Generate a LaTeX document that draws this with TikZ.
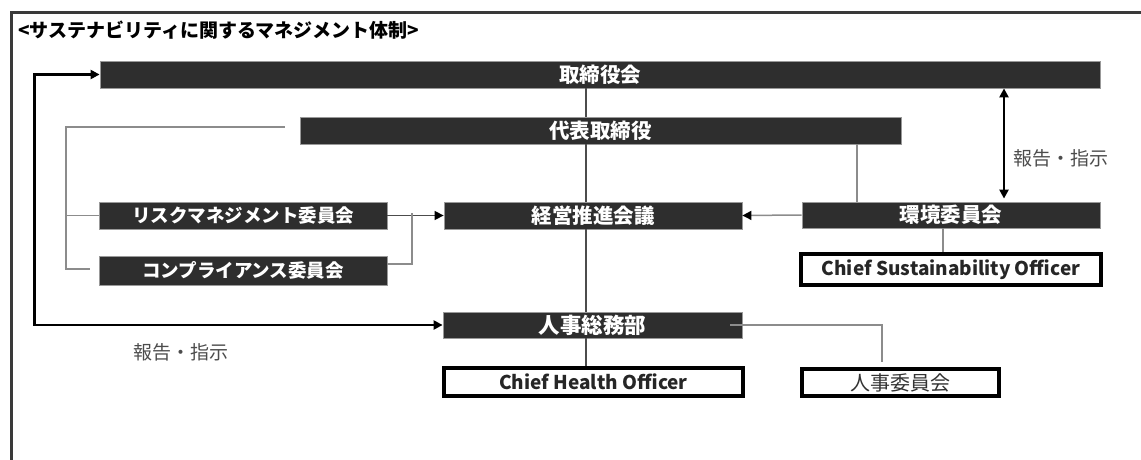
\documentclass[tikz,border=0pt]{standalone}
\usepackage{fontspec}
\setmainfont{Noto Sans CJK JP}
\usetikzlibrary{arrows.meta,fit}
\definecolor{boxfill}{HTML}{2E2E2E}
\definecolor{framecol}{HTML}{3A3A3A}
\begin{document}
\begin{tikzpicture}[x=1pt,y=-1pt,
  darkbox/.style={draw=black!40, line width=0.8pt, fill=boxfill, text=white, inner sep=0pt},
  whitebox/.style={draw=black, line width=3.5pt, fill=white, inner sep=0pt},
  fk/.style={font=\bfseries\fontsize{20.5}{22}\selectfont},
  fkana/.style={font=\bfseries\fontsize{18.5}{20}\selectfont},
  flatin/.style={font=\bfseries\fontsize{19}{21}\selectfont, text=black!85},
  conn/.style={draw=black!45, line width=1.5pt},
  conndark/.style={draw=black!70, line width=1.5pt},
  blk/.style={draw=black, line width=2.5pt},
  tip/.style={-{Triangle[length=9pt,width=9pt,color=black]}},
  lbl/.style={font=\fontsize{19}{21}\selectfont, text=black!70},
]
\useasboundingbox (0,0) rectangle (1141,460);
% frame
\draw[draw=framecol, line width=3pt] (1141,13) -- (11,13) -- (11,460);
\node[anchor=west, font=\bfseries\fontsize{19}{21}\selectfont, inner sep=0pt] (title) at (18,30) {<サステナビリティに関するマネジメント体制>};

% boxes
\node[darkbox, fit={(100,61) (1100,88)}] (board) {};
\node[text=white, fk] at (board.center) {取締役会};
\node[darkbox, fit={(300,117) (901,144)}] (rep) {};
\node[text=white, fk] at (rep.center) {代表取締役};
\node[darkbox, fit={(444,202) (742,229)}] (mgmt) {};
\node[text=white, fk] at (mgmt.center) {経営推進会議};
\node[darkbox, fit={(99,202) (387,229)}] (risk) {};
\node[text=white, fkana] at (risk.center) {リスクマネジメント委員会};
\node[darkbox, fit={(99,256) (387,285)}] (comp) {};
\node[text=white, fkana] at (comp.center) {コンプライアンス委員会};
\node[darkbox, fit={(802,202) (1100,228)}] (env) {};
\node[text=white, fk] at (env.center) {環境委員会};
\node[whitebox, fit={(801,254) (1101,285)}] (cso) {};
\node[flatin] at (cso.center) {Chief Sustainability Officer};
\node[darkbox, fit={(443,312) (742,338)}] (hr) {};
\node[text=white, font=\bfseries\fontsize{21.5}{23}\selectfont] at (hr.center) {人事総務部};
\node[whitebox, fit={(444,368) (743,396)}] (cho) {};
\node[flatin] at (cho.center) {Chief Health Officer};
\node[whitebox, fit={(802,369) (999,396)}] (hrc) {};
\node[font=\fontsize{20}{22}\selectfont, text=black!80] at (hrc.center) {人事委員会};

% helper coordinates
\coordinate (cx) at (586,0);
\coordinate (rx) at (1004,0);
\coordinate (ex) at (857,0);
\coordinate (cs) at (943,0);
\coordinate (bj) at (412,213);
\coordinate (lbt) at (66,127);
\coordinate (lbb) at (66,269);
\coordinate (hrcin) at (882,362);

% central spine
\draw[conndark] (board.south -| cx) -- (rep.north -| cx);
\draw[conndark] (rep.south -| cx) -- (mgmt.north -| cx);
\draw[conndark] (mgmt.south -| cx) -- (hr.north -| cx);
\draw[conndark] (hr.south -| cx) -- (cho.north -| cx);

% left bracket
\draw[conn] ([xshift=-15pt,yshift=3.5pt]rep.west) -- (lbt) -- (lbb) -- ([xshift=-9pt,yshift=1.5pt]comp.west);
\draw[conn] (lbt |- risk.west) -- (risk.west);

% committees to management
\draw[conndark, tip] (risk.east) -- (mgmt.west);
\draw[conn] ([yshift=6.5pt]comp.east) -| (bj);

% environment
\draw[conn] (rep.south -| ex) -- (env.north -| ex);
\draw[conn, tip] (env.west) -- (mgmt.east);
\draw[conn] (env.south -| cs) -- (cso.north -| cs);

% HR
\draw[conn] ([xshift=-12pt]hr.east) -| (hrcin);

% report/instruction arrows
\draw[blk, {Triangle[length=9pt,width=9pt]}-{Triangle[length=9pt,width=9pt]}] (board.west) -- ++(-65,0) |- (hr.west);
\draw[blk, {Triangle[length=9pt,width=9pt]}-{Triangle[length=9pt,width=9pt]}] (board.south -| rx) -- ([yshift=3pt]env.north -| rx);
\node[lbl] (lblL) at (181,352) {報告・指示};
\node[lbl] (lblR) at (1061,158) {報告・指示};
\end{tikzpicture}
\end{document}
